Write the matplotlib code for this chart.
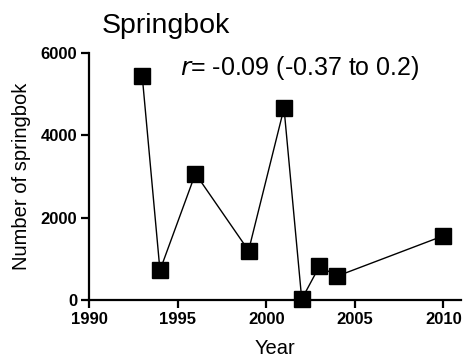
import matplotlib.pyplot as plt
import numpy as np

plt.rcParams['font.family'] = ['Liberation Sans', 'DejaVu Sans']

years = [1993, 1994, 1996, 1999, 2001, 2002, 2003, 2004, 2010]
counts = [5430, 720, 3070, 1200, 4660, 20, 820, 580, 1560]

fig = plt.figure(figsize=(4.64, 3.58), dpi=100)
ax = fig.add_axes([0.192, 0.162, 0.802, 0.690])

ax.plot(years, counts, color='black', lw=1, marker='s', ms=12,
        markerfacecolor='black', markeredgecolor='black', clip_on=False)

ax.set_xlim(1990, 2011)
ax.set_ylim(0, 6000)
ax.set_xticks([1990, 1995, 2000, 2005, 2010])
ax.set_yticks([0, 2000, 4000, 6000])

for s in ['top', 'right']:
    ax.spines[s].set_visible(False)
for s in ['left', 'bottom']:
    ax.spines[s].set_linewidth(1.6)
ax.tick_params(direction='out', length=6, width=1.6, labelsize=12, pad=2.5)
for lbl in ax.get_xticklabels() + ax.get_yticklabels():
    lbl.set_fontweight('bold')

ax.set_xlabel('Year', fontsize=14.5, labelpad=9)
ax.set_ylabel('Number of springbok', fontsize=14.5, labelpad=7)

fig.text(0.22, 0.908, 'Springbok', fontsize=20.5)
ax.text(0.245, 0.94, r'$\it{r}$= -0.09 (-0.37 to 0.2)', transform=ax.transAxes,
        fontsize=18, va='center')

fig.savefig('out.png', dpi=100)
